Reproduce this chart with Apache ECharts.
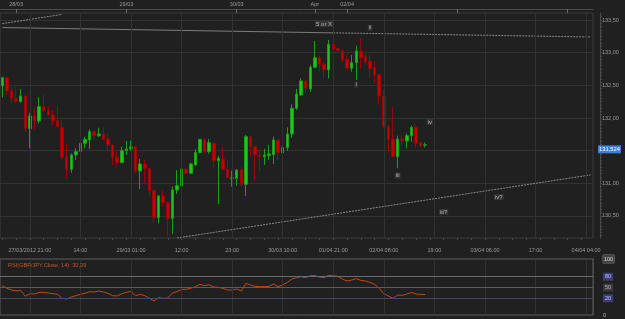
<!DOCTYPE html>
<html>
<head>
<meta charset="utf-8">
<style>
  html, body { margin: 0; padding: 0; background: #202020; }
  #chart { width: 625px; height: 319px; }
</style>
<script src="https://cdn.jsdelivr.net/npm/echarts@6/dist/echarts.min.js"></script>
</head>
<body>
<div id="chart"></div>
<script>
// GBP/JPY hourly candles, [open, close, low, high]
const candles = [
  [132.490, 132.617, 132.316, 132.630], [132.617, 132.418, 132.352, 132.630], [132.418, 132.301, 132.225, 132.480],
  [132.296, 132.260, 132.225, 132.480], [132.250, 132.337, 132.235, 132.444], [132.337, 131.842, 131.791, 132.340],
  [131.837, 132.031, 131.536, 132.082], [132.031, 131.954, 131.816, 132.148], [131.954, 132.174, 131.918, 132.316],
  [132.174, 132.112, 132.097, 132.362], [132.112, 132.046, 132.031, 132.174], [132.046, 131.954, 131.893, 132.123],
  [131.959, 131.867, 131.852, 132.189], [131.857, 131.398, 131.357, 131.970], [131.408, 131.214, 131.077, 131.612],
  [131.214, 131.434, 131.163, 131.459], [131.434, 131.485, 131.357, 131.536], [131.485, 131.612, 131.367, 131.638],
  [131.612, 131.674, 131.536, 131.714], [131.664, 131.791, 131.526, 131.827], [131.791, 131.730, 131.664, 131.800],
  [131.730, 131.755, 131.704, 131.852], [131.755, 131.674, 131.664, 131.857], [131.679, 131.587, 131.485, 131.750],
  [131.587, 131.398, 131.281, 131.590], [131.398, 131.316, 131.255, 131.485], [131.316, 131.500, 131.310, 131.561],
  [131.500, 131.526, 131.434, 131.648], [131.526, 131.561, 131.495, 131.653], [131.561, 131.189, 131.153, 131.565],
  [131.189, 131.296, 130.913, 131.373], [131.296, 131.230, 131.010, 131.367], [131.230, 130.888, 130.796, 131.235],
  [130.888, 130.475, 130.388, 130.890], [130.475, 130.806, 130.388, 130.820], [130.806, 130.704, 130.643, 130.898],
  [130.709, 130.464, 130.184, 130.710], [130.464, 130.898, 130.225, 130.949], [130.898, 130.964, 130.837, 131.204],
  [130.959, 131.220, 130.888, 131.230], [131.220, 131.153, 131.143, 131.225], [131.153, 131.296, 131.143, 131.316],
  [131.281, 131.470, 131.270, 131.521], [131.470, 131.674, 131.460, 131.679], [131.674, 131.485, 131.460, 131.684],
  [131.485, 131.623, 131.450, 131.679], [131.612, 131.347, 131.240, 131.615], [131.347, 131.383, 130.684, 131.418],
  [131.373, 131.214, 131.204, 131.551], [131.214, 131.087, 131.072, 131.357], [131.077, 131.087, 130.949, 131.194],
  [131.077, 131.204, 130.964, 131.214], [131.204, 130.985, 130.949, 131.255], [130.985, 131.714, 130.806, 131.740],
  [131.714, 131.561, 131.408, 131.720], [131.561, 131.434, 131.051, 131.565], [131.434, 131.408, 131.189, 131.510],
  [131.408, 131.434, 131.281, 131.526], [131.424, 131.449, 131.357, 131.587], [131.439, 131.664, 131.296, 131.714],
  [131.664, 131.470, 131.357, 131.674], [131.470, 131.551, 131.347, 131.918], [131.546, 131.755, 131.495, 131.857],
  [131.755, 132.148, 131.699, 132.209], [132.148, 132.367, 132.122, 132.444], [132.352, 132.566, 132.342, 132.607],
  [132.566, 132.454, 132.377, 132.582], [132.444, 132.776, 132.403, 132.811], [132.776, 132.923, 132.760, 133.179],
  [132.923, 132.821, 132.709, 132.954], [132.821, 132.735, 132.607, 132.862], [132.735, 133.128, 132.607, 133.194],
  [133.128, 133.056, 133.026, 133.296], [133.066, 133.031, 133.026, 133.070], [133.031, 132.888, 132.852, 133.035],
  [132.900, 132.760, 132.750, 132.964], [132.760, 132.847, 132.709, 132.964], [132.847, 133.026, 132.582, 133.107],
  [133.026, 132.923, 132.760, 133.230], [132.939, 132.862, 132.811, 132.990], [132.872, 132.760, 132.607, 132.964],
  [132.776, 132.658, 132.530, 132.862], [132.668, 132.337, 132.199, 132.670], [132.337, 131.867, 131.842, 132.429],
  [131.867, 131.673, 131.459, 131.893], [131.679, 131.408, 131.393, 132.173], [131.408, 131.679, 131.230, 131.730],
  [131.679, 131.653, 131.577, 131.750], [131.648, 131.730, 131.536, 131.765], [131.730, 131.857, 131.637, 131.882],
  [131.857, 131.612, 131.551, 131.903], [131.622, 131.577, 131.551, 131.625], [131.585, 131.590, 131.551, 131.625]
];

// RSI(14) per candle
const rsi = [
  55.1, 47.7, 43.0, 40.2, 42.1, 25.4, 32.8, 31.9, 36.5, 36.5, 34.7, 32.8, 31.0, 19.9, 18.0, 23.6,
  27.3, 31.0, 33.8, 38.4, 37.5, 40.2, 37.5, 33.8, 27.3, 26.4, 32.8, 36.5, 39.3, 27.3, 31.0, 27.3,
  19.9, 12.5, 21.7, 19.9, 20.8, 34.7, 38.4, 44.9, 44.9, 47.7, 52.3, 58.8, 55.1, 57.8, 51.4, 50.4,
  47.7, 43.0, 43.0, 45.8, 40.2, 61.5, 56.9, 53.2, 52.3, 52.3, 53.2, 59.7, 52.3, 56.9, 64.3, 73.6,
  77.3, 80.1, 77.3, 82.8, 82.8, 79.1, 77.3, 83.8, 82.8, 81.0, 73.6, 68.0, 70.8, 74.5, 69.9, 68.0,
  64.3, 58.8, 47.7, 32.8, 26.4, 19.9, 29.1, 28.2, 31.9, 36.5, 31.9, 31.0, 30.4
];

// chart has room for this many hourly slots (data + empty future)
const slotCount = 129;

// bottom time axis
const timeTickIdx = [6, 17, 28, 39, 50, 61, 72, 83, 94, 105, 116, 127];
const timeTickLabels = ['27/03/2012 21:00', '14:00', '29/03 01:00', '12:00', '23:00', '30/03 10:00',
  '01/04 21:00', '02/04 08:00', '19:00', '03/04 06:00', '17:00', '04/04 04:00'];

// top date axis
const dayTickIdx = [3, 27, 51, 68, 75, 99, 123];
const dayTickLabels = ['28/03', '29/03', '30/03', 'Apr', '02/04', '', ''];

// price axis
const priceTicks = [130.5, 131.0, 131.5, 132.0, 132.5, 133.0, 133.5];
const priceMin = 130.163;
const priceMax = 133.607;
const lastPrice = 131.524;

// RSI levels
const rsiLevels = [80, 50, 20];
const rsiEdgeTicks = [0, 100];
const rsiTitle = 'RSI(GBP/JPY.Close, 14): 30,39';

// trend lines [slot, price]
const upperSolid = [[0, 133.384], [72, 133.303]];
const upperDotted = [[72, 133.303], [128, 133.240]];
const topLeftDotted = [[0, 133.444], [13, 133.585]];
const lowerDotted = [[38, 130.163], [128, 131.129]];

// wave labels [slot, price, text]
const waveLabels = [
  [70, 133.44, '5 or X'], [80, 133.38, 'ii'], [77, 132.51, 'i'], [86, 131.12, 'iii'],
  [93, 131.94, 'iv'], [108, 130.79, 'iv?'], [96, 130.56, 'iii?']
];

const categories = Array.from({ length: slotCount }, (_, i) => String(i));
const timeMap = {};
timeTickIdx.forEach((idx, k) => { timeMap[idx] = timeTickLabels[k]; });
const dayMap = {};
dayTickIdx.forEach((idx, k) => { dayMap[idx] = dayTickLabels[k]; });

const font = 'Liberation Sans';
const textColor = '#9a9a9a';
const gridColor = '#323232';
const clear = 'rgba(0,0,0,0)';
const comma = (v, d) => v.toFixed(d).replace('.', ',');

const minorPriceTicks = [];
for (let v = 130.2; v <= 133.6; v += 0.05) minorPriceTicks.push(+v.toFixed(2));

const chart = echarts.init(document.getElementById('chart'));

const vLines = timeTickIdx.map(i => ({ xAxis: i }));

chart.setOption({
  backgroundColor: '#202020',
  animation: false,
  title: {
    text: rsiTitle,
    left: 3, top: 257,
    textStyle: { color: '#c8541e', fontSize: 5.6, fontWeight: 'normal', fontFamily: font }
  },
  grid: [
    { left: 0, right: 32, top: 13, height: 225, show: true, borderColor: '#3c3c3c', borderWidth: 1, backgroundColor: 'transparent' },
    { left: 0, right: 32, top: 259, height: 56, show: true, borderColor: '#5e5e5e', borderWidth: 1, backgroundColor: 'transparent' }
  ],
  xAxis: [
    {
      type: 'category', gridIndex: 0, data: categories, boundaryGap: true, position: 'bottom',
      axisLine: { show: false },
      axisTick: { show: true, alignWithLabel: true, length: 2, interval: i => i % 3 === 0, lineStyle: { color: '#4a4a4a' } },
      axisLabel: {
        interval: i => timeMap[i] !== undefined,
        formatter: (v, i) => timeMap[i] || '',
        color: textColor, fontSize: 5.5, fontFamily: font, margin: 9
      },
      splitLine: { show: false }
    },
    {
      type: 'category', gridIndex: 0, data: categories, boundaryGap: true, position: 'top', offset: 4,
      axisLine: { show: true, lineStyle: { color: '#4a4a4a' } },
      axisTick: { show: true, inside: true, alignWithLabel: true, length: 4, interval: i => dayMap[i] !== undefined, lineStyle: { color: '#6a6a6a' } },
      axisLabel: {
        interval: i => dayMap[i] !== undefined,
        formatter: (v, i) => dayMap[i] || '',
        color: textColor, fontSize: 5.5, fontFamily: font, margin: 2
      },
      splitLine: { show: false }
    },
    {
      type: 'category', gridIndex: 1, data: categories, boundaryGap: true,
      axisLine: { show: false }, axisTick: { show: false }, axisLabel: { show: false }, splitLine: { show: false }
    }
  ],
  yAxis: [
    {
      type: 'value', gridIndex: 0, position: 'right', min: priceMin, max: priceMax,
      axisLine: { show: false },
      axisTick: { show: false, customValues: priceTicks },
      axisLabel: { customValues: priceTicks, formatter: v => comma(v, 2), color: textColor, fontSize: 5.5, fontFamily: font, margin: 9 },
      splitLine: { show: true, lineStyle: { color: gridColor } }
    },
    {
      type: 'value', gridIndex: 0, position: 'right', offset: 7, min: priceMin, max: priceMax,
      axisLine: { show: true, lineStyle: { color: '#4a4a4a' } },
      axisTick: { show: true, length: 2, customValues: minorPriceTicks, lineStyle: { color: '#4a4a4a' } },
      axisLabel: { show: false },
      splitLine: { show: false }
    },
    {
      type: 'value', gridIndex: 1, position: 'right', min: -26.4, max: 129.2,
      axisLine: { show: false }, axisTick: { show: false },
      axisLabel: {
        customValues: rsiLevels,
        formatter: v => v === 50 ? '{g|' + v + '}' : '{b|' + v + '}',
        margin: 10,
        rich: {
          b: { color: '#c8c8e8', backgroundColor: '#3c3c78', fontSize: 5.5, fontFamily: font, padding: [1, 2] },
          g: { color: '#bdbdbd', backgroundColor: '#3a3a3a', fontSize: 5.5, fontFamily: font, padding: [1, 2] }
        }
      },
      splitLine: { show: false }
    },
    {
      type: 'value', gridIndex: 1, position: 'right', min: 0, max: 100,
      axisLine: { show: true, lineStyle: { color: '#4a4a4a' } }, axisTick: { show: false },
      axisLabel: {
        customValues: rsiEdgeTicks, margin: 10,
        formatter: v => v === 100 ? '{w|100}' : '{p|0}',
        rich: {
          w: { color: '#d8d8d8', backgroundColor: '#444', borderColor: '#777', borderWidth: 0.5, fontSize: 5.5, fontFamily: font, padding: [1, 1] },
          p: { color: '#bdbdbd', fontSize: 5.5, fontFamily: font }
        }
      },
      splitLine: { show: false }
    }
  ],
  series: [
    {
      name: 'GBP/JPY', type: 'candlestick', xAxisIndex: 0, yAxisIndex: 0,
      data: candles, barWidth: 3,
      itemStyle: { color: '#1fc41f', color0: '#c80000', borderColor: '#16a016', borderColor0: '#9a0606', borderWidth: 1 },
      markLine: {
        silent: true, symbol: 'none', animation: false,
        label: { show: false },
        lineStyle: { color: gridColor, type: 'solid', width: 1 },
        data: vLines.concat([{
          yAxis: lastPrice,
          lineStyle: { color: clear },
          label: {
            show: true, position: 'end', distance: 5, formatter: comma(lastPrice, 3),
            color: '#ffffff', backgroundColor: '#3c7fd8', fontSize: 5.8, fontFamily: font, padding: [1, 1]
          }
        }])
      }
    },
    {
      type: 'line', xAxisIndex: 0, yAxisIndex: 0, data: upperSolid, symbol: 'none', silent: true,
      lineStyle: { color: '#7c7c7c', width: 1 }
    },
    {
      type: 'line', xAxisIndex: 0, yAxisIndex: 0, data: upperDotted, symbol: 'none', silent: true,
      lineStyle: { color: '#8a8a8a', width: 1, type: [2, 1] }
    },
    {
      type: 'line', xAxisIndex: 0, yAxisIndex: 0, data: topLeftDotted, symbol: 'none', silent: true,
      lineStyle: { color: '#8a8a8a', width: 1, type: [2, 1] }
    },
    {
      type: 'line', xAxisIndex: 0, yAxisIndex: 0, data: lowerDotted, symbol: 'none', silent: true,
      lineStyle: { color: '#8a8a8a', width: 1, type: [2, 1] }
    },
    {
      type: 'scatter', xAxisIndex: 0, yAxisIndex: 0, silent: true,
      data: waveLabels, symbolSize: 1, itemStyle: { color: clear },
      label: {
        show: true, position: 'inside', formatter: p => p.data[2],
        color: '#cfcfcf', backgroundColor: '#3a3a3a', fontSize: 6, fontFamily: font, padding: [0, 1]
      }
    },
    {
      name: 'RSI', type: 'line', xAxisIndex: 2, yAxisIndex: 2, data: rsi, symbol: 'none', silent: true,
      lineStyle: { color: '#c8460e', width: 1 },
      markLine: {
        silent: true, symbol: 'none', animation: false, label: { show: false },
        data: vLines.map(d => Object.assign({ lineStyle: { color: gridColor, type: 'solid', width: 1 } }, d)).concat([
          { yAxis: rsiLevels[0], lineStyle: { color: '#6c6c6c', type: 'solid', width: 1 } },
          { yAxis: rsiLevels[1], lineStyle: { color: '#5c5c5c', type: 'solid', width: 1 } },
          { yAxis: rsiLevels[2], lineStyle: { color: '#45456c', type: 'solid', width: 1 } }
        ])
      }
    }
  ]
});
</script>
</body>
</html>
